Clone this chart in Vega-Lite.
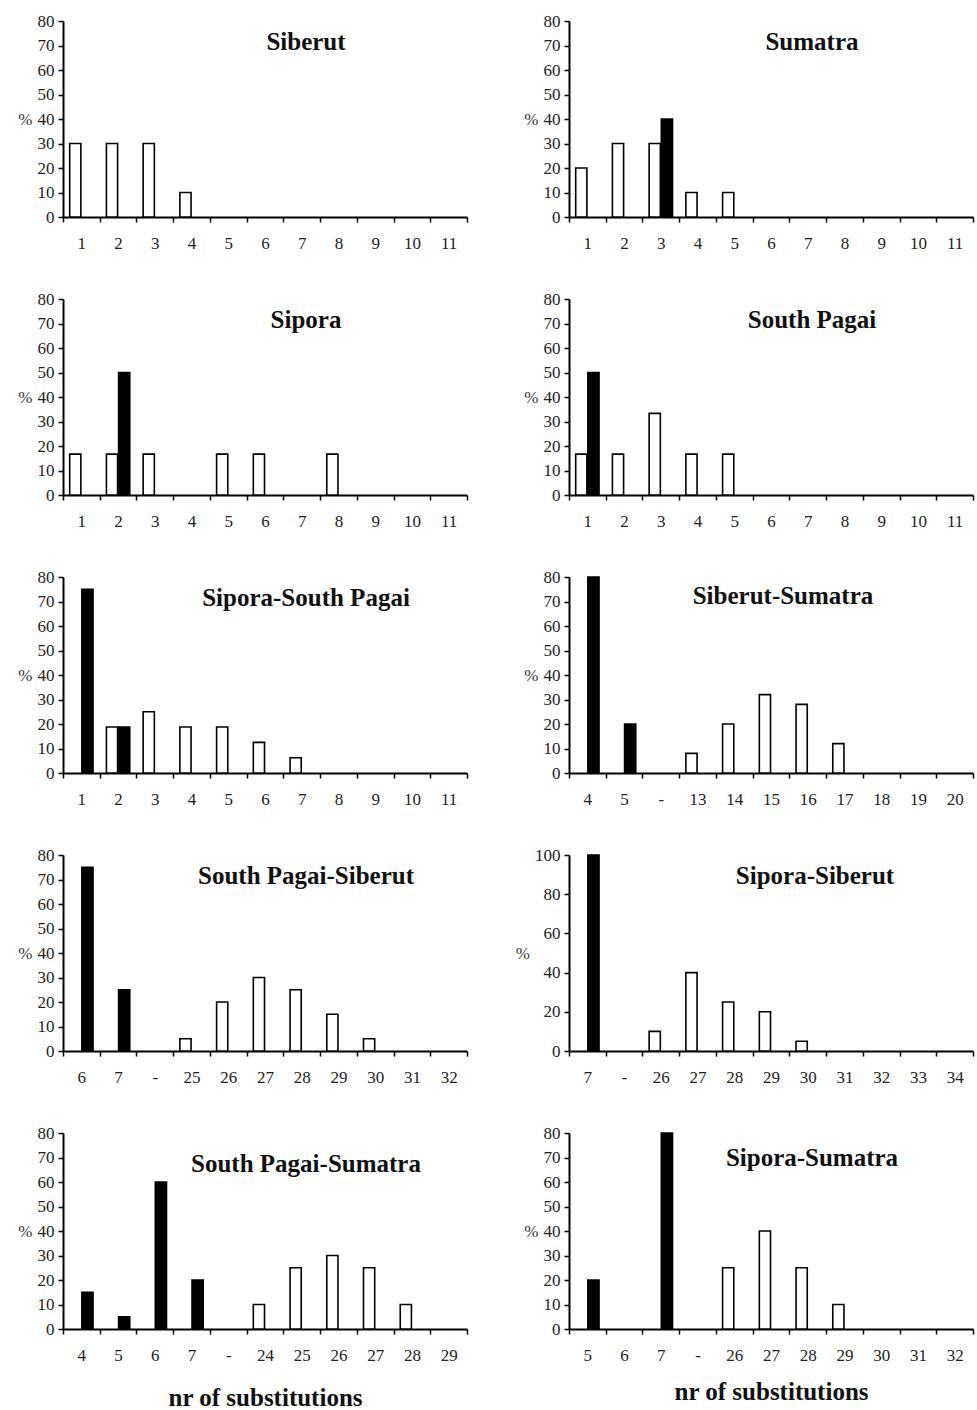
{
  "$schema": "https://vega.github.io/schema/vega-lite/v6.json",
  "padding": {"left": 17, "top": 12, "right": 1, "bottom": 4},
  "data": {"values": [
    {"p": "Siberut", "c": "1", "k": "w", "v": 30},
    {"p": "Siberut", "c": "2", "k": "w", "v": 30},
    {"p": "Siberut", "c": "3", "k": "w", "v": 30},
    {"p": "Siberut", "c": "4", "k": "w", "v": 10},
    {"p": "Sumatra", "c": "1", "k": "w", "v": 20},
    {"p": "Sumatra", "c": "2", "k": "w", "v": 30},
    {"p": "Sumatra", "c": "3", "k": "w", "v": 30},
    {"p": "Sumatra", "c": "3", "k": "b", "v": 40},
    {"p": "Sumatra", "c": "4", "k": "w", "v": 10},
    {"p": "Sumatra", "c": "5", "k": "w", "v": 10},
    {"p": "Sipora", "c": "1", "k": "w", "v": 16.7},
    {"p": "Sipora", "c": "2", "k": "w", "v": 16.7},
    {"p": "Sipora", "c": "2", "k": "b", "v": 50},
    {"p": "Sipora", "c": "3", "k": "w", "v": 16.7},
    {"p": "Sipora", "c": "5", "k": "w", "v": 16.7},
    {"p": "Sipora", "c": "6", "k": "w", "v": 16.7},
    {"p": "Sipora", "c": "8", "k": "w", "v": 16.7},
    {"p": "South Pagai", "c": "1", "k": "w", "v": 16.7},
    {"p": "South Pagai", "c": "1", "k": "b", "v": 50},
    {"p": "South Pagai", "c": "2", "k": "w", "v": 16.7},
    {"p": "South Pagai", "c": "3", "k": "w", "v": 33.3},
    {"p": "South Pagai", "c": "4", "k": "w", "v": 16.7},
    {"p": "South Pagai", "c": "5", "k": "w", "v": 16.7},
    {"p": "Sipora-South Pagai", "c": "1", "k": "b", "v": 75},
    {"p": "Sipora-South Pagai", "c": "2", "k": "w", "v": 18.75},
    {"p": "Sipora-South Pagai", "c": "2", "k": "b", "v": 18.75},
    {"p": "Sipora-South Pagai", "c": "3", "k": "w", "v": 25},
    {"p": "Sipora-South Pagai", "c": "4", "k": "w", "v": 18.75},
    {"p": "Sipora-South Pagai", "c": "5", "k": "w", "v": 18.75},
    {"p": "Sipora-South Pagai", "c": "6", "k": "w", "v": 12.5},
    {"p": "Sipora-South Pagai", "c": "7", "k": "w", "v": 6.25},
    {"p": "Siberut-Sumatra", "c": "4", "k": "b", "v": 80},
    {"p": "Siberut-Sumatra", "c": "5", "k": "b", "v": 20},
    {"p": "Siberut-Sumatra", "c": "13", "k": "w", "v": 8},
    {"p": "Siberut-Sumatra", "c": "14", "k": "w", "v": 20},
    {"p": "Siberut-Sumatra", "c": "15", "k": "w", "v": 32},
    {"p": "Siberut-Sumatra", "c": "16", "k": "w", "v": 28},
    {"p": "Siberut-Sumatra", "c": "17", "k": "w", "v": 12},
    {"p": "South Pagai-Siberut", "c": "6", "k": "b", "v": 75},
    {"p": "South Pagai-Siberut", "c": "7", "k": "b", "v": 25},
    {"p": "South Pagai-Siberut", "c": "25", "k": "w", "v": 5},
    {"p": "South Pagai-Siberut", "c": "26", "k": "w", "v": 20},
    {"p": "South Pagai-Siberut", "c": "27", "k": "w", "v": 30},
    {"p": "South Pagai-Siberut", "c": "28", "k": "w", "v": 25},
    {"p": "South Pagai-Siberut", "c": "29", "k": "w", "v": 15},
    {"p": "South Pagai-Siberut", "c": "30", "k": "w", "v": 5},
    {"p": "Sipora-Siberut", "c": "7", "k": "b", "v": 100},
    {"p": "Sipora-Siberut", "c": "26", "k": "w", "v": 10},
    {"p": "Sipora-Siberut", "c": "27", "k": "w", "v": 40},
    {"p": "Sipora-Siberut", "c": "28", "k": "w", "v": 25},
    {"p": "Sipora-Siberut", "c": "29", "k": "w", "v": 20},
    {"p": "Sipora-Siberut", "c": "30", "k": "w", "v": 5},
    {"p": "South Pagai-Sumatra", "c": "4", "k": "b", "v": 15},
    {"p": "South Pagai-Sumatra", "c": "5", "k": "b", "v": 5},
    {"p": "South Pagai-Sumatra", "c": "6", "k": "b", "v": 60},
    {"p": "South Pagai-Sumatra", "c": "7", "k": "b", "v": 20},
    {"p": "South Pagai-Sumatra", "c": "24", "k": "w", "v": 10},
    {"p": "South Pagai-Sumatra", "c": "25", "k": "w", "v": 25},
    {"p": "South Pagai-Sumatra", "c": "26", "k": "w", "v": 30},
    {"p": "South Pagai-Sumatra", "c": "27", "k": "w", "v": 25},
    {"p": "South Pagai-Sumatra", "c": "28", "k": "w", "v": 10},
    {"p": "Sipora-Sumatra", "c": "5", "k": "b", "v": 20},
    {"p": "Sipora-Sumatra", "c": "7", "k": "b", "v": 80},
    {"p": "Sipora-Sumatra", "c": "26", "k": "w", "v": 25},
    {"p": "Sipora-Sumatra", "c": "27", "k": "w", "v": 40},
    {"p": "Sipora-Sumatra", "c": "28", "k": "w", "v": 25},
    {"p": "Sipora-Sumatra", "c": "29", "k": "w", "v": 10}
  ]},
  "columns": 2,
  "spacing": {"row": 82, "column": 102},
  "bounds": "flush",
  "concat": [
    {
      "width": 404, "height": 196,
      "title": {"text": "Siberut"},
      "transform": [{"filter": "datum.p === 'Siberut'"}],
      "mark": {"type": "bar", "stroke": "#000", "strokeWidth": 1.6},
      "encoding": {
        "x": {"field": "c", "type": "nominal", "scale": {"domain": ["1","2","3","4","5","6","7","8","9","10","11"], "paddingInner": 0, "paddingOuter": 0}, "axis": {"title": null}},
        "xOffset": {"field": "k", "type": "nominal", "scale": {"domain": ["w","b"], "paddingInner": 0.08, "paddingOuter": 0.55}},
        "y": {"field": "v", "type": "quantitative", "scale": {"domain": [0, 80]}, "axis": {"values": [0,10,20,30,40,50,60,70,80], "title": "%"}},
        "fill": {"field": "k", "type": "nominal", "scale": {"domain": ["w","b"], "range": ["#ffffff","#000000"]}, "legend": null}
      }
    },
    {
      "width": 404, "height": 196,
      "title": {"text": "Sumatra"},
      "transform": [{"filter": "datum.p === 'Sumatra'"}],
      "mark": {"type": "bar", "stroke": "#000", "strokeWidth": 1.6},
      "encoding": {
        "x": {"field": "c", "type": "nominal", "scale": {"domain": ["1","2","3","4","5","6","7","8","9","10","11"], "paddingInner": 0, "paddingOuter": 0}, "axis": {"title": null}},
        "xOffset": {"field": "k", "type": "nominal", "scale": {"domain": ["w","b"], "paddingInner": 0.08, "paddingOuter": 0.55}},
        "y": {"field": "v", "type": "quantitative", "scale": {"domain": [0, 80]}, "axis": {"values": [0,10,20,30,40,50,60,70,80], "title": "%"}},
        "fill": {"field": "k", "type": "nominal", "scale": {"domain": ["w","b"], "range": ["#ffffff","#000000"]}, "legend": null}
      }
    },
    {
      "width": 404, "height": 196,
      "title": {"text": "Sipora"},
      "transform": [{"filter": "datum.p === 'Sipora'"}],
      "mark": {"type": "bar", "stroke": "#000", "strokeWidth": 1.6},
      "encoding": {
        "x": {"field": "c", "type": "nominal", "scale": {"domain": ["1","2","3","4","5","6","7","8","9","10","11"], "paddingInner": 0, "paddingOuter": 0}, "axis": {"title": null}},
        "xOffset": {"field": "k", "type": "nominal", "scale": {"domain": ["w","b"], "paddingInner": 0.08, "paddingOuter": 0.55}},
        "y": {"field": "v", "type": "quantitative", "scale": {"domain": [0, 80]}, "axis": {"values": [0,10,20,30,40,50,60,70,80], "title": "%"}},
        "fill": {"field": "k", "type": "nominal", "scale": {"domain": ["w","b"], "range": ["#ffffff","#000000"]}, "legend": null}
      }
    },
    {
      "width": 404, "height": 196,
      "title": {"text": "South Pagai"},
      "transform": [{"filter": "datum.p === 'South Pagai'"}],
      "mark": {"type": "bar", "stroke": "#000", "strokeWidth": 1.6},
      "encoding": {
        "x": {"field": "c", "type": "nominal", "scale": {"domain": ["1","2","3","4","5","6","7","8","9","10","11"], "paddingInner": 0, "paddingOuter": 0}, "axis": {"title": null}},
        "xOffset": {"field": "k", "type": "nominal", "scale": {"domain": ["w","b"], "paddingInner": 0.08, "paddingOuter": 0.55}},
        "y": {"field": "v", "type": "quantitative", "scale": {"domain": [0, 80]}, "axis": {"values": [0,10,20,30,40,50,60,70,80], "title": "%"}},
        "fill": {"field": "k", "type": "nominal", "scale": {"domain": ["w","b"], "range": ["#ffffff","#000000"]}, "legend": null}
      }
    },
    {
      "width": 404, "height": 196,
      "title": {"text": "Sipora-South Pagai"},
      "transform": [{"filter": "datum.p === 'Sipora-South Pagai'"}],
      "mark": {"type": "bar", "stroke": "#000", "strokeWidth": 1.6},
      "encoding": {
        "x": {"field": "c", "type": "nominal", "scale": {"domain": ["1","2","3","4","5","6","7","8","9","10","11"], "paddingInner": 0, "paddingOuter": 0}, "axis": {"title": null}},
        "xOffset": {"field": "k", "type": "nominal", "scale": {"domain": ["w","b"], "paddingInner": 0.08, "paddingOuter": 0.55}},
        "y": {"field": "v", "type": "quantitative", "scale": {"domain": [0, 80]}, "axis": {"values": [0,10,20,30,40,50,60,70,80], "title": "%"}},
        "fill": {"field": "k", "type": "nominal", "scale": {"domain": ["w","b"], "range": ["#ffffff","#000000"]}, "legend": null}
      }
    },
    {
      "width": 404, "height": 196,
      "title": {"text": "Siberut-Sumatra", "dx": 12, "dy": 45},
      "transform": [{"filter": "datum.p === 'Siberut-Sumatra'"}],
      "mark": {"type": "bar", "stroke": "#000", "strokeWidth": 1.6},
      "encoding": {
        "x": {"field": "c", "type": "nominal", "scale": {"domain": ["4","5","-","13","14","15","16","17","18","19","20"], "paddingInner": 0, "paddingOuter": 0}, "axis": {"title": null}},
        "xOffset": {"field": "k", "type": "nominal", "scale": {"domain": ["w","b"], "paddingInner": 0.08, "paddingOuter": 0.55}},
        "y": {"field": "v", "type": "quantitative", "scale": {"domain": [0, 80]}, "axis": {"values": [0,10,20,30,40,50,60,70,80], "title": "%"}},
        "fill": {"field": "k", "type": "nominal", "scale": {"domain": ["w","b"], "range": ["#ffffff","#000000"]}, "legend": null}
      }
    },
    {
      "width": 404, "height": 196,
      "title": {"text": "South Pagai-Siberut"},
      "transform": [{"filter": "datum.p === 'South Pagai-Siberut'"}],
      "mark": {"type": "bar", "stroke": "#000", "strokeWidth": 1.6},
      "encoding": {
        "x": {"field": "c", "type": "nominal", "scale": {"domain": ["6","7","-","25","26","27","28","29","30","31","32"], "paddingInner": 0, "paddingOuter": 0}, "axis": {"title": null}},
        "xOffset": {"field": "k", "type": "nominal", "scale": {"domain": ["w","b"], "paddingInner": 0.08, "paddingOuter": 0.55}},
        "y": {"field": "v", "type": "quantitative", "scale": {"domain": [0, 80]}, "axis": {"values": [0,10,20,30,40,50,60,70,80], "title": "%"}},
        "fill": {"field": "k", "type": "nominal", "scale": {"domain": ["w","b"], "range": ["#ffffff","#000000"]}, "legend": null}
      }
    },
    {
      "width": 404, "height": 196,
      "title": {"text": "Sipora-Siberut", "dx": 44},
      "transform": [{"filter": "datum.p === 'Sipora-Siberut'"}],
      "mark": {"type": "bar", "stroke": "#000", "strokeWidth": 1.6},
      "encoding": {
        "x": {"field": "c", "type": "nominal", "scale": {"domain": ["7","-","26","27","28","29","30","31","32","33","34"], "paddingInner": 0, "paddingOuter": 0}, "axis": {"title": null}},
        "xOffset": {"field": "k", "type": "nominal", "scale": {"domain": ["w","b"], "paddingInner": 0.08, "paddingOuter": 0.55}},
        "y": {"field": "v", "type": "quantitative", "scale": {"domain": [0, 100]}, "axis": {"values": [0,20,40,60,80,100], "title": "%"}},
        "fill": {"field": "k", "type": "nominal", "scale": {"domain": ["w","b"], "range": ["#ffffff","#000000"]}, "legend": null}
      }
    },
    {
      "width": 404, "height": 196,
      "title": {"text": "South Pagai-Sumatra", "dy": 57},
      "transform": [{"filter": "datum.p === 'South Pagai-Sumatra'"}],
      "mark": {"type": "bar", "stroke": "#000", "strokeWidth": 1.6},
      "encoding": {
        "x": {"field": "c", "type": "nominal", "scale": {"domain": ["4","5","6","7","-","24","25","26","27","28","29"], "paddingInner": 0, "paddingOuter": 0}, "axis": {"title": "nr of substitutions", "titlePadding": 22}},
        "xOffset": {"field": "k", "type": "nominal", "scale": {"domain": ["w","b"], "paddingInner": 0.08, "paddingOuter": 0.55}},
        "y": {"field": "v", "type": "quantitative", "scale": {"domain": [0, 80]}, "axis": {"values": [0,10,20,30,40,50,60,70,80], "title": "%"}},
        "fill": {"field": "k", "type": "nominal", "scale": {"domain": ["w","b"], "range": ["#ffffff","#000000"]}, "legend": null}
      }
    },
    {
      "width": 404, "height": 196,
      "title": {"text": "Sipora-Sumatra", "dy": 51},
      "transform": [{"filter": "datum.p === 'Sipora-Sumatra'"}],
      "mark": {"type": "bar", "stroke": "#000", "strokeWidth": 1.6},
      "encoding": {
        "x": {"field": "c", "type": "nominal", "scale": {"domain": ["5","6","7","-","26","27","28","29","30","31","32"], "paddingInner": 0, "paddingOuter": 0}, "axis": {"title": "nr of substitutions", "titlePadding": 16}},
        "xOffset": {"field": "k", "type": "nominal", "scale": {"domain": ["w","b"], "paddingInner": 0.08, "paddingOuter": 0.55}},
        "y": {"field": "v", "type": "quantitative", "scale": {"domain": [0, 80]}, "axis": {"values": [0,10,20,30,40,50,60,70,80], "title": "%"}},
        "fill": {"field": "k", "type": "nominal", "scale": {"domain": ["w","b"], "range": ["#ffffff","#000000"]}, "legend": null}
      }
    }
  ],
  "config": {
    "view": {"stroke": null},
    "font": "Liberation Serif",
    "axis": {"domainColor": "#000", "domainWidth": 2, "tickColor": "#000", "tickWidth": 1.5, "tickSize": 5, "labelFont": "Liberation Serif", "labelFontSize": 17, "labelColor": "#222", "grid": false, "titleFont": "Liberation Serif"},
    "axisX": {"labelAngle": 0, "labelPadding": 13, "tickBand": "extent", "titleFontSize": 25, "titleFontWeight": "bold", "titleColor": "#111", "titlePadding": 18},
    "axisY": {"titleAngle": 0, "titleAlign": "right", "titleBaseline": "middle", "titleFontSize": 17, "titleFontWeight": "normal", "titleColor": "#333", "titlePadding": 5, "labelPadding": 4},
    "title": {"font": "Liberation Serif", "fontSize": 25, "fontWeight": "bold", "color": "#111", "anchor": "middle", "frame": "group", "offset": 0, "baseline": "middle", "dx": 41, "dy": 47}
  }
}
